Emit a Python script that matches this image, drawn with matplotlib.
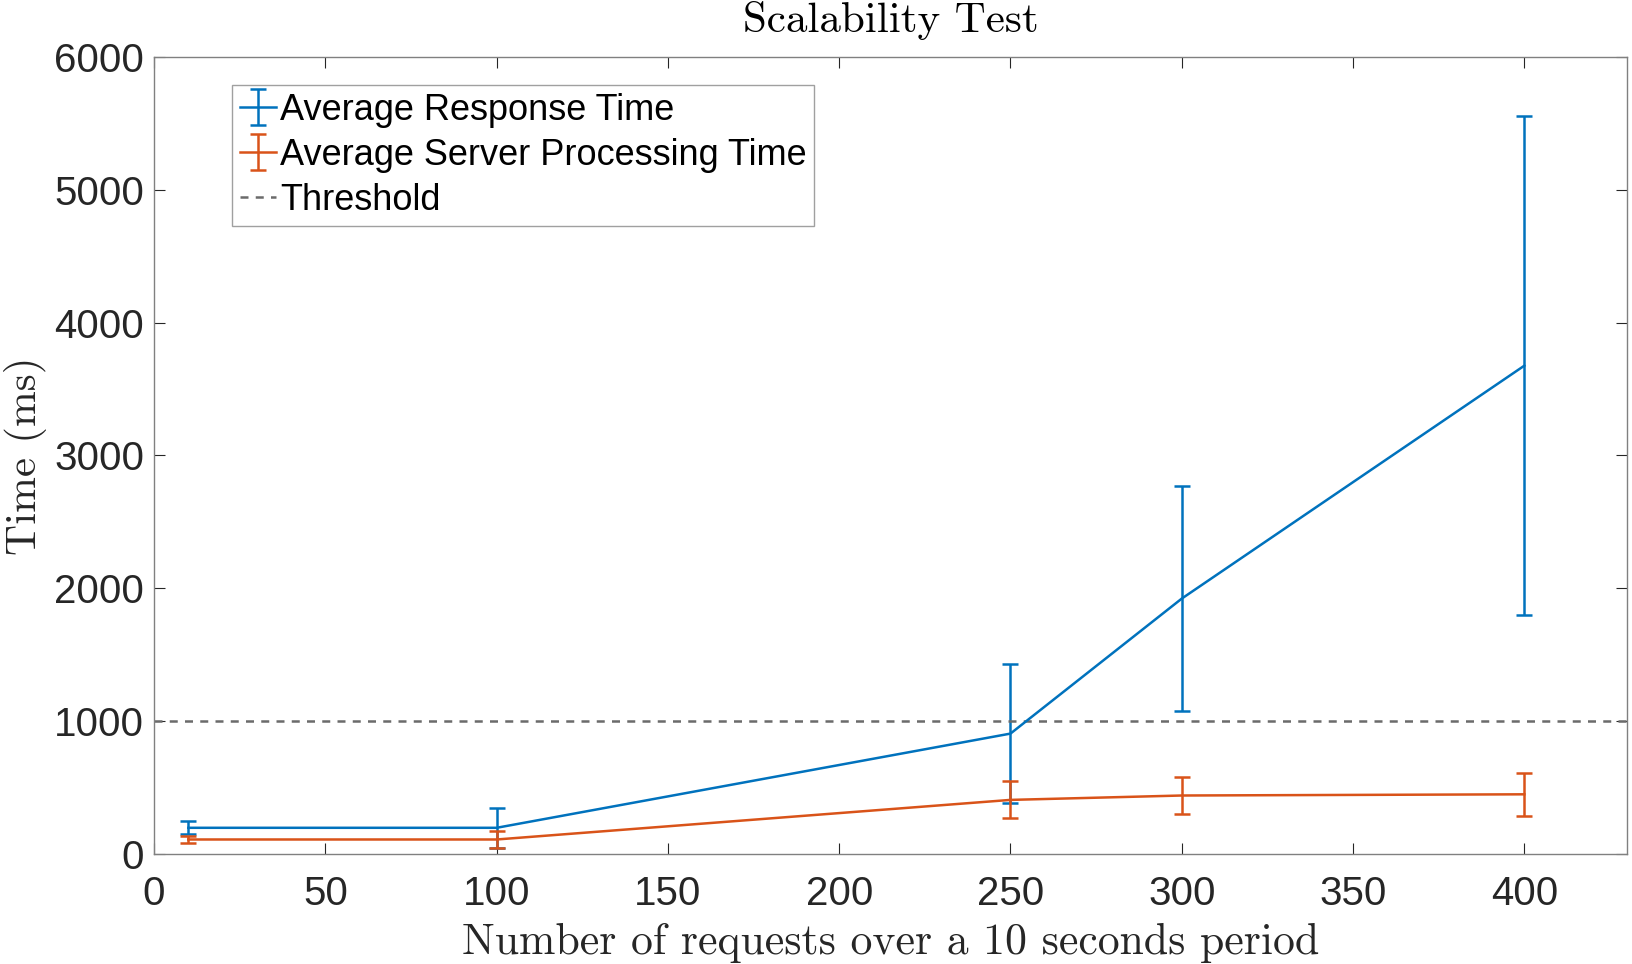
import numpy as np
import matplotlib
matplotlib.use('Agg')
import matplotlib.pyplot as plt

# values
requests = [10, 100, 250, 300, 400]
response_mean = [198, 198, 907, 1923, 3676]
response_err = [50, 150, 520, 845, 1876]
server_mean = [110, 110, 408, 441, 450]
server_err = [23, 65, 140, 140, 162]
threshold = 1000

BLUE = '#0072BD'
ORANGE = '#D95319'
AXCOL = '#262626'

plt.rcParams['font.family'] = ['Liberation Sans', 'DejaVu Sans']

fig = plt.figure(figsize=(16.32, 9.64), dpi=100)
ax = fig.add_axes([0.0944, 0.114, 0.9026, 0.827])

h1 = ax.errorbar(requests, response_mean, yerr=response_err, color=BLUE, lw=1.8,
                 elinewidth=1.8, capsize=5.5, capthick=1.8,
                 label='Average Response Time')
h2 = ax.errorbar(requests, server_mean, yerr=server_err, color=ORANGE, lw=1.8,
                 elinewidth=1.8, capsize=5.5, capthick=1.8,
                 label='Average Server Processing Time')
h3 = ax.axhline(threshold, color='#6b6b6b', lw=1.8, dashes=(3.2, 2.9),
                label='Threshold')

ax.set_xlim(0, 430)
ax.set_ylim(0, 6000)
ax.set_xticks(np.arange(0, 401, 50))
ax.set_yticks(np.arange(0, 6001, 1000))
ax.tick_params(direction='in', length=8, width=0.8, colors=AXCOL,
               labelsize=29, top=True, right=True, pad=7)
ax.tick_params(axis='x', pad=15)
for s in ax.spines.values():
    s.set_color('#808080')
    s.set_linewidth(1.0)

ax.set_title('Scalability Test', fontfamily='cmr10', fontsize=31,
             color='black', pad=18)
ax.set_xlabel('Number of requests over a 10 seconds period',
              fontfamily='cmr10', fontsize=31.5, color=AXCOL, labelpad=7)
ax.set_ylabel('Time (ms)', fontfamily='cmr10', fontsize=31, color=AXCOL,
              labelpad=5)

leg = ax.legend([h1, h2, h3],
                ['Average Response Time', 'Average Server Processing Time',
                 'Threshold'],
                loc='upper left', bbox_to_anchor=(0.053, 0.965),
                fontsize=26, frameon=True, fancybox=False, framealpha=1,
                edgecolor='#a0a0a0', handlelength=1.0, handletextpad=0.1,
                labelspacing=0.28, borderpad=0.22, borderaxespad=0)
leg.get_frame().set_linewidth(1.0)

fig.savefig('out.png', dpi=100)
